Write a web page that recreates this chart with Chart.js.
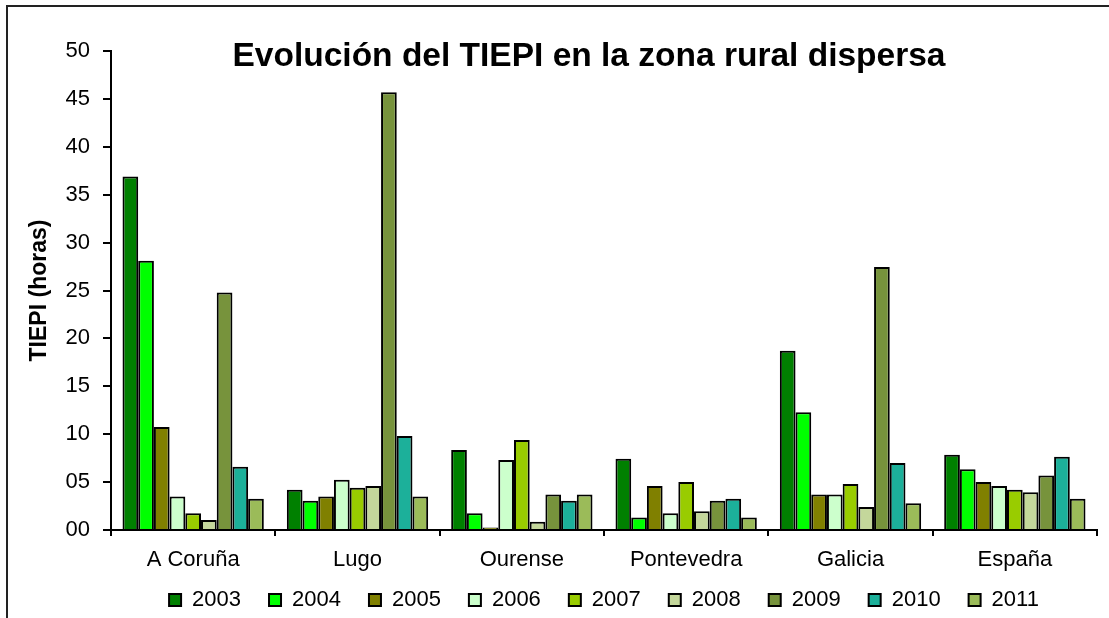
<!DOCTYPE html>
<html>
<head>
<meta charset="utf-8">
<script src="https://cdn.jsdelivr.net/npm/chart.js@4/dist/chart.umd.min.js"></script>
<style>
  body { margin: 0; background: #fff; }
  #wrap { width: 1109px; height: 618px; }
</style>
</head>
<body>
<div id="wrap"><canvas id="myChart" width="1109" height="618"></canvas></div>
<script>
var zonas = ['A Coruña', 'Lugo', 'Ourense', 'Pontevedra', 'Galicia', 'España'];
var years = ['2003', '2004', '2005', '2006', '2007', '2008', '2009', '2010', '2011'];
var yTicks = [0, 5, 10, 15, 20, 25, 30, 35, 40, 45, 50];

// one array per year, values per zona (horas)
var v2003 = [36.9, 4.2, 8.35, 7.45, 18.7, 7.85];
var v2004 = [28.1, 3.05, 1.75, 1.3, 12.3, 6.35];
var v2005 = [10.75, 3.5, 0.25, 4.6, 3.7, 5.0];
var v2006 = [3.5, 5.25, 7.3, 1.75, 3.7, 4.6];
var v2007 = [1.75, 4.4, 9.4, 5.0, 4.8, 4.2];
var v2008 = [1.05, 4.6, 0.85, 1.95, 2.4, 3.95];
var v2009 = [24.8, 45.7, 3.7, 3.05, 27.45, 5.7];
var v2010 = [6.6, 9.8, 3.05, 3.25, 7.0, 7.65];
var v2011 = [3.25, 3.5, 3.7, 1.3, 2.8, 3.25];

var series = [v2003, v2004, v2005, v2006, v2007, v2008, v2009, v2010, v2011];
var colores = ['#008000', '#00ff00', '#808000', '#ccffcc', '#99cc00', '#c4d79b', '#77933c', '#1cb09a', '#9bbb59'];

var fuente = '"Liberation Sans", Arial, sans-serif';
var ctx = document.getElementById('myChart');

var datasets = years.map(function (y, i) {
  return {
    label: y,
    data: series[i],
    backgroundColor: colores[i],
    borderColor: '#000',
    borderWidth: 2,
    borderSkipped: 'bottom',
    barPercentage: 1.0,
    categoryPercentage: 0.86
  };
});

// outer frame + title drawn over the plot
var framePlugin = {
  id: 'frame',
  beforeDraw: function (chart) {
    var c = chart.ctx;
    c.save();
    c.fillStyle = '#fff';
    c.fillRect(0, 0, chart.width, chart.height);
    c.strokeStyle = '#222';
    c.lineWidth = 2;
    c.beginPath();
    c.moveTo(7, 618);
    c.lineTo(7, 6);
    c.lineTo(1109, 6);
    c.stroke();
    c.restore();
  },
  afterDraw: function (chart) {
    var c = chart.ctx;
    c.save();
    c.fillStyle = '#000';
    c.font = 'bold 33.5px ' + fuente;
    c.textAlign = 'center';
    c.textBaseline = 'alphabetic';
    c.fillText('Evolución del TIEPI en la zona rural dispersa', 589, 66);
    c.restore();
  }
};

var myChart = new Chart(ctx, {
  type: 'bar',
  data: {
    labels: zonas,
    datasets: datasets
  },
  options: {
    responsive: false,
    animation: false,
    layout: {
      padding: { left: 0, right: 12, top: 51, bottom: -3 }
    },
    plugins: {
      title: { display: false },
      tooltip: { enabled: false },
      legend: {
        display: true,
        position: 'bottom',
        fullSize: false,
        labels: {
          color: '#000',
          font: { family: fuente, size: 22 },
          boxWidth: 12,
          boxHeight: 12,
          padding: 28
        }
      }
    },
    scales: {
      x: {
        grid: { display: true, drawOnChartArea: false, color: '#000', lineWidth: 2, tickLength: 6, offset: true },
        border: { color: '#000', width: 2 },
        ticks: {
          color: '#000',
          padding: 11,
          font: { family: fuente, size: 22 }
        },
        afterFit: function (scale) {
          scale.height = 31;
          // labels sit a little below the (short) axis box, so don't clip them
          scale._computeLabelArea = function () { return undefined; };
        }
      },
      y: {
        min: 0,
        max: 50,
        afterBuildTicks: function (scale) {
          scale.ticks = yTicks.map(function (v) { return { value: v }; });
        },
        grid: { drawOnChartArea: false, color: '#000', lineWidth: 2, tickLength: 8 },
        border: { color: '#000', width: 2 },
        ticks: {
          color: '#000',
          padding: 13,
          font: { family: fuente, size: 22 },
          callback: function (v) { return (v < 10 ? '0' : '') + v; }
        },
        title: {
          display: true,
          text: 'TIEPI (horas)',
          color: '#000',
          padding: { top: 26, bottom: 0 },
          font: { family: fuente, size: 23, weight: 'bold' }
        },
        afterFit: function (scale) { scale.width = 111; }
      }
    }
  },
  plugins: [framePlugin]
});
</script>
</body>
</html>
